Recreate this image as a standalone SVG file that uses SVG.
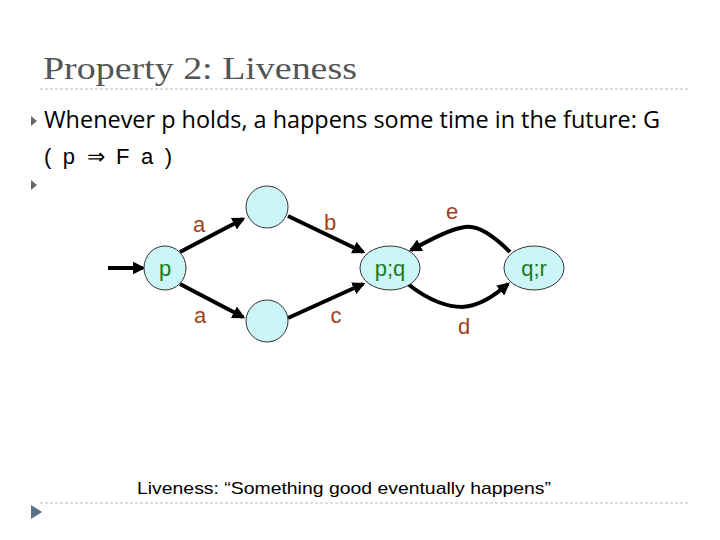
<svg xmlns="http://www.w3.org/2000/svg" width="720" height="540" viewBox="0 0 720 540">
<defs>
<style>
.lbl{font-family:"Liberation Sans",Arial,sans-serif;font-size:22px;fill:#a0401c;text-anchor:middle}
.nt{font-family:"Liberation Sans",Arial,sans-serif;font-size:22px;fill:#1a7a1a;text-anchor:middle}
.node{fill:#ccf5f8;stroke:#333;stroke-width:1}
.edge{fill:none;stroke:#000;stroke-width:4;marker-end:url(#ah)}
.body{font-family:"Open Sans",sans-serif;font-size:23px;fill:#000}
</style>
<marker id="ah" viewBox="0 0 10 10" refX="8" refY="5" markerWidth="3.2" markerHeight="3.2" orient="auto" markerUnits="strokeWidth"><path d="M0,0L10,5L0,10z" fill="#000"/></marker>
</defs>
<rect width="720" height="540" fill="#fff"/>
<text x="43" y="79" font-family="Liberation Serif,serif" font-size="31" fill="#555" textLength="314" lengthAdjust="spacingAndGlyphs">Property 2: Liveness</text>
<line x1="40" y1="89" x2="690" y2="89" stroke="#bbb" stroke-dasharray="3,2"/>
<path d="M31,116l6,5l-6,5z" fill="#666"/>
<text class="body" x="44" y="128" textLength="616" lengthAdjust="spacingAndGlyphs">Whenever p holds, a happens some time in the future: G</text>
<text x="44" y="164" font-family="Liberation Sans,sans-serif" font-size="22" textLength="128" lengthAdjust="spacing">( p ⇒ F  a )</text>
<path d="M31,180l6,5l-6,5z" fill="#666"/>
<g id="connectors">
<line class="edge" x1="108" y1="268" x2="143" y2="268"/>
<line class="edge" x1="180" y1="252" x2="243" y2="219"/>
<line class="edge" x1="180" y1="284" x2="243" y2="317"/>
<line class="edge" x1="288" y1="216" x2="363" y2="252"/>
<line class="edge" x1="288" y1="318" x2="363" y2="284"/>
<path class="edge" d="M510,252C490,232 475,225 465,227C450,229 430,240 411,250"/>
<path class="edge" d="M408,284C430,302 450,307 462,307C480,306 495,295 508,284"/>
</g>
<g id="node-p"><ellipse class="node" cx="165" cy="268" rx="21" ry="22"/><text class="nt" x="165" y="276">p</text></g>
<g id="node-top"><ellipse class="node" cx="267" cy="207" rx="21" ry="21"/></g>
<g id="node-bottom"><ellipse class="node" cx="267" cy="321" rx="21" ry="21"/></g>
<g id="node-pq"><ellipse class="node" cx="390" cy="268" rx="30" ry="22"/><text class="nt" x="390" y="276">p;q</text></g>
<g id="node-qr"><ellipse class="node" cx="534" cy="268" rx="30" ry="22"/><text class="nt" x="534" y="276">q;r</text></g>
<g id="labels">
<text class="lbl" x="199" y="232">a</text>
<text class="lbl" x="330" y="230">b</text>
<text class="lbl" x="452" y="219">e</text>
<text class="lbl" x="200" y="323">a</text>
<text class="lbl" x="336" y="323">c</text>
<text class="lbl" x="464" y="334">d</text>
</g>
<text x="137" y="494" font-family="Liberation Sans,sans-serif" font-size="17" textLength="414" lengthAdjust="spacingAndGlyphs">Liveness: “Something good eventually happens”</text>
<line x1="40" y1="503" x2="690" y2="503" stroke="#bbb" stroke-dasharray="3,2"/>
<path d="M31,505l11,7l-11,7z" fill="#5a6e8a"/>
</svg>
